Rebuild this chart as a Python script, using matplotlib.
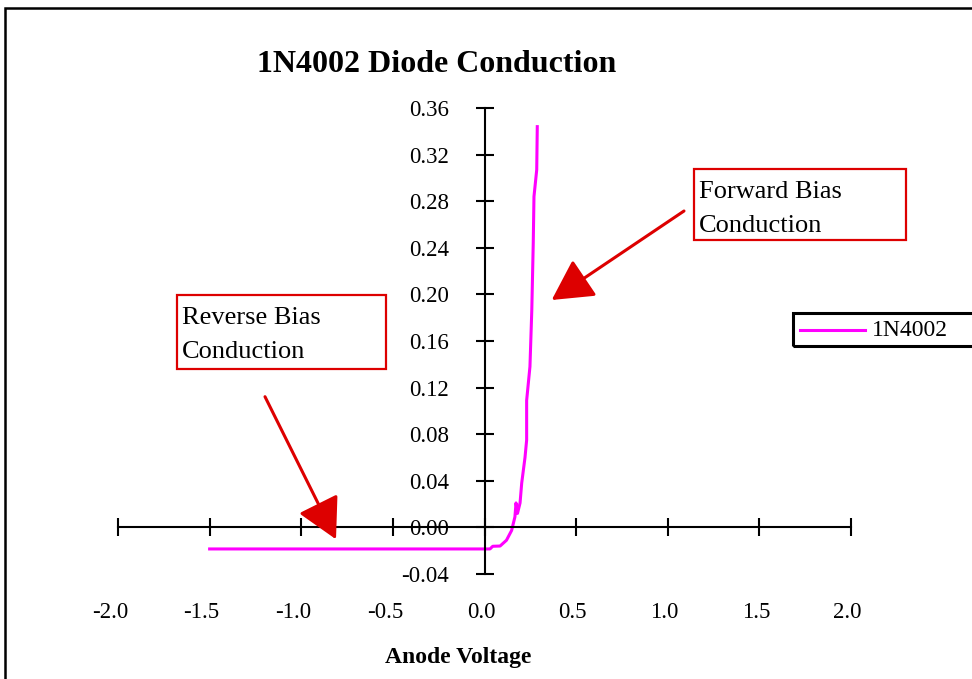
import matplotlib
matplotlib.use("Agg")
from matplotlib import pyplot as plt
from matplotlib.patches import Rectangle
from matplotlib.lines import Line2D
from matplotlib.transforms import ScaledTranslation

plt.rcParams['font.family'] = ['Liberation Serif', 'DejaVu Serif']

voltage = [-1.5, -1.0, -0.5, 0.0, 0.03, 0.045, 0.085, 0.12, 0.148, 0.166, 0.172,
           0.180, 0.194, 0.203, 0.221, 0.230, 0.230, 0.248, 0.258, 0.266, 0.270,
           0.285, 0.288]
current = [-0.0185, -0.0185, -0.0185, -0.0185, -0.0185, -0.0162, -0.016, -0.011,
           -0.0026, 0.009, 0.021, 0.012, 0.021, 0.038, 0.060, 0.075, 0.109,
           0.138, 0.186, 0.244, 0.284, 0.307, 0.344]
series_name = "1N4002"

x_ticks = [-2.0, -1.5, -1.0, -0.5, 0.0, 0.5, 1.0, 1.5, 2.0]
y_ticks = [-0.04, 0.00, 0.04, 0.08, 0.12, 0.16, 0.20, 0.24, 0.28, 0.32, 0.36]

W, H = 972, 679
RED = '#dd0000'
MAGENTA = '#ff00ff'


def px(x, y):
    # figure pixel (from top-left) -> figure fraction
    return x / W, 1 - y / H


fig = plt.figure(figsize=(W / 100, H / 100), dpi=100)
ax = fig.add_axes([118 / W, 105 / H, 733 / W, 466 / H])

ax.plot(voltage, current, color=MAGENTA, lw=2.2, clip_on=False)

ax.set_xlim(-2, 2)
ax.set_ylim(-0.04, 0.36)
for s in ['top', 'right']:
    ax.spines[s].set_visible(False)
ax.spines['left'].set_position(('data', 0))
ax.spines['bottom'].set_position(('data', 0))
ax.spines['left'].set_linewidth(1.5)
ax.spines['bottom'].set_linewidth(1.5)

ax.set_xticks(x_ticks)
ax.set_xticklabels([f"{v:.1f}" for v in x_ticks])
ax.set_yticks(y_ticks)
ax.set_yticklabels([f"{v:.2f}" for v in y_ticks])
ax.tick_params(axis='both', direction='inout', length=13, width=1.5, labelsize=16.5)
ax.tick_params(axis='y', pad=19)
ax.tick_params(axis='x', pad=47)
# Excel puts the x labels a little left of their ticks
for v, lab in zip(x_ticks, ax.get_xticklabels()):
    dx = -8 if v < 0 else -3.5
    lab.set_transform(lab.get_transform() + ScaledTranslation(dx / 100, 0, fig.dpi_scale_trans))

# title and axis label
fig.text(*px(436.5, 72), "1N4002 Diode Conduction", ha='center', va='baseline',
         fontsize=23, fontweight='bold')
fig.text(*px(458.5, 663), "Anode Voltage", ha='center', va='baseline',
         fontsize=17, fontweight='bold')

# annotation boxes
for (x0, y0, x1, y1), lines in [((694, 169, 906, 240), ["Forward Bias", "Conduction"]),
                                ((177, 295, 386, 369), ["Reverse Bias", "Conduction"])]:
    fx, fy = px(x0, y1)
    fig.add_artist(Rectangle((fx, fy), (x1 - x0) / W, (y1 - y0) / H,
                             transform=fig.transFigure, fill=False, ec=RED, lw=1.6))
    for i, line in enumerate(lines):
        fig.text(*px(x0 + 5, y0 + 28.5 + 35 * i), line, ha='left', va='baseline',
                 fontsize=19)

# arrows
for tail, tip in [((684, 211), (551.7, 300)), ((265, 396.7), (336, 539.3))]:
    ax.annotate('', xy=(tip[0], H - tip[1]), xycoords='figure pixels',
                xytext=(tail[0], H - tail[1]), textcoords='figure pixels',
                arrowprops=dict(arrowstyle='-|>,head_length=1.26,head_width=0.68',
                                mutation_scale=20, color=RED, lw=2.2,
                                shrinkA=0, shrinkB=0))

# legend box (runs off the right edge)
lx, ly = px(793, 346)
fig.add_artist(Rectangle((lx, ly), 250 / W, 33 / H, transform=fig.transFigure,
                         fill=False, ec='black', lw=2.2))
fig.add_artist(Line2D([800 / W, 865 / W], [1 - 329.5 / H] * 2, transform=fig.transFigure,
                      color=MAGENTA, lw=2.2))
fig.text(*px(872, 330), series_name, ha='left', va='center', fontsize=17)

# outer chart frame
fx, fy = px(5, 900)
fig.add_artist(Rectangle((fx, fy), 2, (900 - 8) / H, transform=fig.transFigure,
                         fill=False, ec='black', lw=1.8))

fig.savefig("out.png", dpi=100)
